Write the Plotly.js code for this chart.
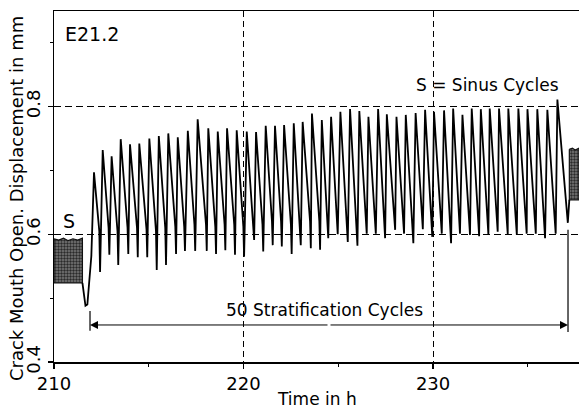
<!DOCTYPE html>
<html>
<head>
<meta charset="utf-8">
<script src="https://cdn.plot.ly/plotly-3.0.1.min.js"></script>
<style>html,body{margin:0;padding:0;background:#fff;}#chart{width:579px;height:411px;}</style>
</head>
<body>
<div id="chart"></div>
<script>
// ---- data ----
const bandLeftT = [210.0, 210.25, 210.5, 210.75, 211.0, 211.25, 211.5];
const bandLeftTop = [0.593, 0.591, 0.594, 0.590, 0.593, 0.591, 0.594];
const bandLeftBottom = [0.524, 0.524, 0.524, 0.524, 0.524, 0.524, 0.524];

const bandRightT = [237.19, 237.35, 237.5, 237.7];
const bandRightTop = [0.733, 0.735, 0.732, 0.735];
const bandRightBottom = [0.654, 0.654, 0.654, 0.654];

const startT = [211.50, 211.58, 211.66, 211.76, 211.86, 211.97];
const startV = [0.524, 0.500, 0.488, 0.490, 0.534, 0.566];

const peakT = [212.11, 212.57, 213.04, 213.52, 214.01, 214.50, 215.03, 215.53, 216.03, 216.53,
  217.06, 217.58, 218.14, 218.64, 219.13, 219.64, 220.17, 220.66, 221.17, 221.66,
  222.14, 222.65, 223.12, 223.61, 224.13, 224.62, 225.11, 225.62, 226.11, 226.59,
  227.10, 227.56, 228.07, 228.56, 229.08, 229.58, 230.05, 230.58, 231.06, 231.55,
  232.04, 232.52, 232.99, 233.48, 233.97, 234.50, 234.98, 235.50, 236.03, 236.56];
const peakV = [0.697, 0.732, 0.722, 0.749, 0.741, 0.742, 0.750, 0.754, 0.758, 0.752,
  0.762, 0.780, 0.766, 0.761, 0.766, 0.763, 0.761, 0.760, 0.770, 0.770,
  0.771, 0.774, 0.776, 0.789, 0.779, 0.784, 0.792, 0.796, 0.793, 0.784,
  0.796, 0.788, 0.784, 0.787, 0.790, 0.795, 0.792, 0.794, 0.797, 0.787,
  0.797, 0.796, 0.797, 0.797, 0.797, 0.797, 0.796, 0.796, 0.795, 0.811];
const kneeV = [0.605, 0.610, 0.605, 0.610, 0.610, 0.608, 0.605, 0.610, 0.612, 0.612,
  0.615, 0.615, 0.612, 0.615, 0.615, 0.612, 0.620, 0.615, 0.620, 0.620,
  0.615, 0.620, 0.620, 0.620, 0.622, 0.625, 0.622, 0.620, 0.625, 0.625,
  0.625, 0.628, 0.625, 0.622, 0.630, 0.625, 0.628, 0.622, 0.628, 0.628,
  0.628, 0.628, 0.630, 0.628, 0.628, 0.630, 0.630, 0.625, 0.628, 0.625];
const troughT = [212.43, 212.92, 213.39, 213.92, 214.42, 214.92, 215.42, 215.91, 216.44, 216.91,
  217.45, 218.06, 218.55, 219.04, 219.55, 220.03, 220.56, 221.04, 221.54, 222.02,
  222.54, 223.02, 223.55, 224.04, 224.47, 224.97, 225.50, 226.01, 226.50, 226.98,
  227.47, 228.00, 228.47, 228.96, 229.46, 229.96, 230.46, 230.95, 231.42, 231.95,
  232.43, 232.92, 233.41, 233.94, 234.42, 234.94, 235.42, 235.91, 236.47, 237.11];
const troughV = [0.541, 0.568, 0.552, 0.569, 0.564, 0.564, 0.544, 0.552, 0.569, 0.574,
  0.574, 0.574, 0.569, 0.575, 0.568, 0.565, 0.591, 0.573, 0.583, 0.581,
  0.569, 0.583, 0.578, 0.576, 0.594, 0.600, 0.588, 0.582, 0.601, 0.601,
  0.594, 0.607, 0.601, 0.586, 0.608, 0.596, 0.601, 0.586, 0.601, 0.599,
  0.597, 0.599, 0.604, 0.600, 0.599, 0.601, 0.601, 0.594, 0.601, 0.618];

const xTickVals = [210, 220, 230];
const yTickVals = [0.4, 0.6, 0.8];
const yTickText = ['0.4', '0.6', '0.8'];

const arrowStartT = 211.90, arrowEndT = 237.12, arrowV = 0.458;

// ---- build line ----
const lineX = startT.slice(), lineY = startV.slice();
for (let i = 0; i < peakT.length; i++) {
  lineX.push(peakT[i]); lineY.push(peakV[i]);
  lineX.push(troughT[i] - 0.04); lineY.push(kneeV[i]);
  lineX.push(troughT[i]); lineY.push(troughV[i]);
}
lineX.push(bandRightT[0]); lineY.push(bandRightBottom[0]);

function bandPoly(t, top, bot) {
  return { x: t.concat(t.slice().reverse(), [t[0]]), y: top.concat(bot.slice().reverse(), [top[0]]) };
}
const bl = bandPoly(bandLeftT, bandLeftTop, bandLeftBottom);
const br = bandPoly(bandRightT, bandRightTop, bandRightBottom);

const FONT = 'DejaVu Sans, sans-serif';

const traces = [
  { x: bl.x, y: bl.y, mode: 'lines', fill: 'toself', fillcolor: '#6e6e6e',
    fillpattern: { shape: '.', fgcolor: '#2a2a2a', bgcolor: '#7a7a7a', size: 3, solidity: 0.5 },
    line: { color: '#111', width: 1.2 }, hoverinfo: 'skip', showlegend: false },
  { x: br.x, y: br.y, mode: 'lines', fill: 'toself', fillcolor: '#6e6e6e',
    fillpattern: { shape: '.', fgcolor: '#2a2a2a', bgcolor: '#7a7a7a', size: 3, solidity: 0.5 },
    line: { color: '#111', width: 1.2 }, hoverinfo: 'skip', showlegend: false },
  { x: lineX, y: lineY, mode: 'lines', line: { color: '#000', width: 1.8 }, showlegend: false }
];

const layout = {
  width: 579, height: 411,
  margin: { l: 54, r: 0, t: 11, b: 49 },
  paper_bgcolor: '#fff', plot_bgcolor: '#fff',
  font: { family: FONT, size: 17, color: '#000' },
  showlegend: false,
  xaxis: {
    range: [210, 237.7], tickvals: xTickVals, ticktext: xTickVals.map(String),
    ticks: 'outside', ticklen: 5, tickwidth: 1.2, tickcolor: '#000',
    minor: { dtick: 5, ticks: 'outside', ticklen: 3, tickcolor: '#000', showgrid: false },
    showline: true, linecolor: '#000', linewidth: 1.5, mirror: true,
    showgrid: true, gridcolor: '#000', gridwidth: 1, griddash: '6px,4px',
    zeroline: false, tickfont: { size: 18 }
  },
  yaxis: {
    range: [0.4, 0.9497], tickvals: yTickVals, ticktext: yTickText,
    ticks: 'outside', ticklen: 5, tickwidth: 1.2, tickcolor: '#000', tickangle: -90,
    minor: { tickvals: [0.5, 0.7, 0.9], ticks: 'outside', ticklen: 3, tickcolor: '#000', showgrid: false },
    showline: true, linecolor: '#000', linewidth: 1.5,
    showgrid: true, gridcolor: '#000', gridwidth: 1, griddash: '7px,4px',
    zeroline: false, tickfont: { size: 18 }
  },
  shapes: [
    { type: 'line', xref: 'x', yref: 'y', x0: arrowStartT, x1: arrowStartT, y0: 0.449, y1: 0.480, line: { color: '#000', width: 1.2 } },
    { type: 'line', xref: 'x', yref: 'y', x0: arrowEndT, x1: arrowEndT, y0: 0.447, y1: 0.607, line: { color: '#000', width: 1.2 } }
  ],
  annotations: [
    { x: arrowStartT, y: arrowV, ax: (arrowStartT + arrowEndT) / 2, ay: arrowV, xref: 'x', yref: 'y', axref: 'x', ayref: 'y',
      text: '', showarrow: true, arrowhead: 2, arrowsize: 1.6, arrowwidth: 1, arrowcolor: '#000', standoff: 0 },
    { x: arrowEndT, y: arrowV, ax: (arrowStartT + arrowEndT) / 2, ay: arrowV, xref: 'x', yref: 'y', axref: 'x', ayref: 'y',
      text: '', showarrow: true, arrowhead: 2, arrowsize: 1.6, arrowwidth: 1, arrowcolor: '#000', standoff: 0 },
    { x: 224.28, y: 0.4815, xref: 'x', yref: 'y', text: '50 Stratification Cycles', showarrow: false, font: { size: 17 } },
    { x: 229.0, y: 0.834, xref: 'x', yref: 'y', xanchor: 'left', text: 'S = Sinus Cycles', showarrow: false, font: { size: 17 } },
    { x: 210.77, y: 0.621, xref: 'x', yref: 'y', text: 'S', showarrow: false, font: { size: 19 } },
    { x: 237.72, y: 0.765, xref: 'x', yref: 'y', xanchor: 'right', text: 'S', showarrow: false, font: { size: 19 } },
    { x: 210.5, y: 0.913, xref: 'x', yref: 'y', xanchor: 'left', text: 'E21.2', showarrow: false, font: { size: 19 } },
    { x: -0.0724, y: 0.467, xref: 'paper', yref: 'paper', xanchor: 'center', yanchor: 'middle',
      text: 'Crack Mouth Open. Displacement in mm', textangle: -90, showarrow: false, font: { size: 18 } },
    { x: 0.5, y: -0.105, xref: 'paper', yref: 'paper', xanchor: 'center', yanchor: 'middle',
      text: 'Time in h', showarrow: false, font: { size: 17 } }
  ]
};

Plotly.newPlot('chart', traces, layout, { staticPlot: true, displayModeBar: false });
</script>
</body>
</html>
